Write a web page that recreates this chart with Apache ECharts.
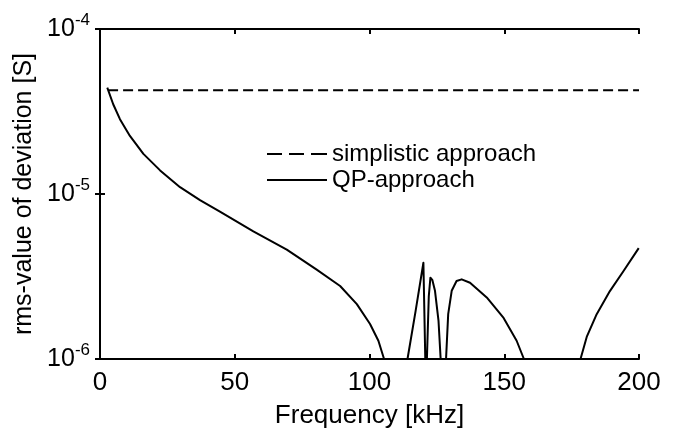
<!DOCTYPE html>
<html>
<head>
<meta charset="utf-8">
<script src="https://cdn.jsdelivr.net/npm/echarts@6/dist/echarts.min.js"></script>
<style>
  html, body { margin: 0; padding: 0; background: #fff; }
  #main { width: 674px; height: 434px; }
</style>
</head>
<body>
<div id="main"></div>
<script>
// values ('-' = curve below 1e-6, left out)
var freqQP = [2.7, 3.1, 4.9, 7.4, 11.1, 16.1, 22.3, 29.7, 37.1, 44.5, 56.9, 69.3, 80.4, 89.1, 95.3, 100.2, 103.3, 105.4,
  110,
  114.1, 117.1, 120.0, 120.7,
  121.0,
  121.3, 122.0, 122.6, 123.3, 124.3, 125.6, 126.4,
  127.4,
  128.4, 129.2, 130.5, 132.3, 134.2, 137.3, 143.5, 149.6, 154.6, 157.3,
  168,
  178.3, 180.6, 184.3, 189.2, 194.2, 199.9];
var rmsQP = [4.41e-5, 4.31e-5, 3.50e-5, 2.84e-5, 2.25e-5, 1.75e-5, 1.39e-5, 1.10e-5, 9.18e-6, 7.82e-6, 5.93e-6, 4.60e-6, 3.48e-6, 2.77e-6, 2.15e-6, 1.63e-6, 1.29e-6, 1e-6,
  '-',
  1e-6, 1.95e-6, 3.83e-6, 1e-6,
  '-',
  1e-6, 2.40e-6, 3.11e-6, 3.02e-6, 2.59e-6, 1.71e-6, 1e-6,
  '-',
  1e-6, 1.87e-6, 2.59e-6, 2.97e-6, 3.04e-6, 2.90e-6, 2.36e-6, 1.79e-6, 1.29e-6, 1e-6,
  '-',
  1e-6, 1.36e-6, 1.87e-6, 2.58e-6, 3.40e-6, 4.70e-6];
var freqSimple = [3, 200];
var rmsSimple = [4.25e-5, 4.25e-5];
var xTicks = [0, 50, 100, 150, 200];
var yExponents = [-6, -5, -4];

var font = 'Liberation Sans, Arial, sans-serif';
function pairs(xs, ys) {
  return xs.map(function (x, i) { return [x, ys[i]]; });
}

// legend icons: three dashes / one solid bar
var dashIcon = 'path://M0,0H15V2H0Z M22,0H37V2H22Z M44,0H60V2H44Z';
var solidIcon = 'path://M0,0H60V2H0Z';

var myChart = echarts.init(document.getElementById('main'));
var option = {
  animation: false,
  backgroundColor: '#fff',
  grid: { left: 100, right: 35, top: 29, bottom: 72 },
  legend: {
    orient: 'vertical',
    left: 262,
    top: 137,
    itemWidth: 60,
    itemHeight: 2,
    itemGap: 2,
    textStyle: { fontFamily: font, fontSize: 24, color: '#000' },
    data: [
      { name: 'simplistic approach', icon: dashIcon },
      { name: 'QP-approach', icon: solidIcon }
    ]
  },
  xAxis: [
    {
      type: 'value',
      min: xTicks[0],
      max: xTicks[xTicks.length - 1],
      interval: 50,
      name: 'Frequency [kHz]',
      nameLocation: 'middle',
      nameGap: 44,
      nameTextStyle: { fontFamily: font, fontSize: 26, color: '#000' },
      axisLine: { lineStyle: { color: '#000', width: 2 } },
      axisTick: { inside: true, length: 5, lineStyle: { color: '#000', width: 2 } },
      axisLabel: { fontFamily: font, fontSize: 26, color: '#000', margin: 11 },
      splitLine: { show: false }
    },
    {
      type: 'value',
      position: 'top',
      min: xTicks[0],
      max: xTicks[xTicks.length - 1],
      interval: 50,
      axisLine: { lineStyle: { color: '#000', width: 2 } },
      axisTick: { inside: true, length: 5, lineStyle: { color: '#000', width: 2 } },
      axisLabel: { show: false },
      splitLine: { show: false }
    }
  ],
  yAxis: [
    {
      type: 'log',
      logBase: 10,
      min: Math.pow(10, yExponents[0]),
      max: Math.pow(10, yExponents[yExponents.length - 1]),
      name: 'rms-value of deviation [S]',
      nameLocation: 'middle',
      nameGap: 58,
      nameTextStyle: { fontFamily: font, fontSize: 25, color: '#000' },
      axisLine: { lineStyle: { color: '#000', width: 2 } },
      axisTick: { inside: true, length: 5, lineStyle: { color: '#000', width: 2 } },
      minorTick: { show: false },
      axisLabel: {
        margin: 10,
        formatter: function (v) {
          var e = Math.round(Math.log10(v));
          return '{b|10}{s|' + e + '}';
        },
        rich: {
          b: { fontFamily: font, fontSize: 25, color: '#000' },
          s: { fontFamily: font, fontSize: 17, color: '#000', padding: [0, 0, 18, 0] }
        }
      },
      splitLine: { show: false }
    },
    {
      type: 'log',
      logBase: 10,
      position: 'right',
      min: Math.pow(10, yExponents[0]),
      max: Math.pow(10, yExponents[yExponents.length - 1]),
      axisLine: { lineStyle: { color: '#000', width: 2 } },
      axisTick: { inside: true, length: 5, lineStyle: { color: '#000', width: 2 } },
      axisLabel: { show: false },
      splitLine: { show: false }
    }
  ],
  series: [
    {
      name: 'simplistic approach',
      type: 'line',
      symbol: 'none',
      data: pairs(freqSimple, rmsSimple),
      lineStyle: { color: '#000', width: 2, type: [10, 5] },
      itemStyle: { color: '#000' }
    },
    {
      name: 'QP-approach',
      type: 'line',
      symbol: 'none',
      connectNulls: false,
      data: pairs(freqQP, rmsQP),
      lineStyle: { color: '#000', width: 2, join: 'round' },
      itemStyle: { color: '#000' }
    }
  ]
};
myChart.setOption(option);
</script>
</body>
</html>
